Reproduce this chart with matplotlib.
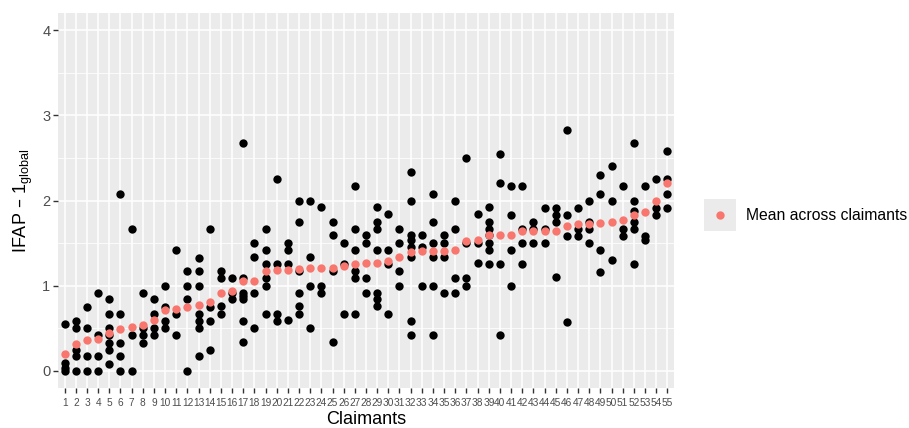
import matplotlib
matplotlib.use("Agg")
import matplotlib.pyplot as plt
import numpy as np

plt.rcParams["font.family"] = ["Liberation Sans", "DejaVu Sans"]

# IFAP - 1 values per claimant (claimants ordered by mean)
claimant_values = [
    [0.55, 0.09, 0.04, 0.0],
    [0.59, 0.5, 0.25, 0.17, 0.0],
    [0.75, 0.5, 0.17, 0.0],
    [0.92, 0.42, 0.17, 0.0],
    [0.84, 0.67, 0.5, 0.42, 0.33, 0.25, 0.08],
    [2.08, 0.67, 0.33, 0.17, 0.0],
    [1.67, 0.42, 0.0],
    [0.92, 0.5, 0.42, 0.33],
    [0.84, 0.67, 0.5, 0.42],
    [1.0, 0.75, 0.59, 0.5],
    [1.42, 0.67, 0.42],
    [1.17, 1.0, 0.84, 0.0],
    [1.33, 1.17, 1.0, 0.67, 0.59, 0.5, 0.17],
    [1.67, 0.75, 0.59, 0.25],
    [1.17, 1.09, 0.76, 0.67],
    [1.09, 0.92, 0.84],
    [2.67, 1.09, 0.92, 0.88, 0.84, 0.59, 0.34],
    [1.5, 1.34, 0.92, 0.5],
    [1.67, 1.42, 1.25, 1.09, 1.0, 0.67],
    [2.25, 1.25, 0.67, 0.59],
    [1.5, 1.42, 1.25, 0.6],
    [2.0, 1.75, 1.17, 0.92, 0.76, 0.67],
    [2.0, 1.34, 1.0, 0.5],
    [1.92, 1.0, 0.92],
    [1.75, 1.59, 1.17, 0.34],
    [1.5, 1.25, 0.67],
    [2.17, 1.67, 1.42, 1.17, 1.09, 0.67],
    [1.59, 1.5, 1.09, 0.92],
    [1.92, 1.75, 1.67, 1.42, 0.92, 0.84, 0.76],
    [1.84, 1.42, 1.25, 0.67],
    [1.67, 1.5, 1.17, 1.0],
    [2.34, 2.0, 1.59, 1.54, 1.46, 1.34, 0.59, 0.42],
    [1.59, 1.46, 1.0],
    [2.08, 1.75, 1.5, 1.34, 1.0, 0.42],
    [1.59, 1.5, 1.34, 0.92],
    [2.0, 1.67, 1.09, 0.92],
    [2.5, 1.5, 1.09, 1.0],
    [1.84, 1.5, 1.27],
    [1.92, 1.75, 1.67, 1.59, 1.5, 1.42, 1.25],
    [2.55, 2.2, 1.25, 0.42],
    [2.17, 1.83, 1.42, 1.0],
    [2.17, 1.67, 1.5, 1.25],
    [1.75, 1.67, 1.5],
    [1.91, 1.67, 1.5],
    [1.91, 1.83, 1.75, 1.1],
    [2.83, 1.83, 1.58, 0.58],
    [1.91, 1.67, 1.58],
    [2.0, 1.75, 1.67, 1.5],
    [2.3, 2.08, 1.42, 1.16],
    [2.41, 2.0, 1.3],
    [2.17, 1.67, 1.58],
    [2.67, 2.0, 1.88, 1.75, 1.67, 1.25],
    [2.17, 1.58, 1.54],
    [2.25, 1.91, 1.83],
    [2.58, 2.25, 2.08, 1.91],
]

mean_values = [
    0.2, 0.32, 0.36, 0.38, 0.45, 0.49, 0.52, 0.545, 0.6, 0.71,
    0.73, 0.75, 0.77, 0.81, 0.92, 0.94, 1.05, 1.06, 1.17, 1.19,
    1.19, 1.2, 1.21, 1.21, 1.21, 1.23, 1.25, 1.27, 1.27, 1.29,
    1.34, 1.4, 1.41, 1.41, 1.41, 1.42, 1.52, 1.54, 1.6, 1.6,
    1.6, 1.64, 1.64, 1.64, 1.64, 1.7, 1.72, 1.73, 1.74, 1.75,
    1.77, 1.83, 1.86, 2.0, 2.21,
]

claimant_labels = [str(i) for i in range(1, len(claimant_values) + 1)]

MEAN_COLOR = "#F8766D"
PANEL_BG = "#EBEBEB"

fig = plt.figure(figsize=(9.09, 4.28), dpi=100)
ax = fig.add_axes([58 / 909, 1 - 388 / 428, (674 - 58) / 909, (388 - 13) / 428])
ax.set_facecolor(PANEL_BG)

xs = np.arange(1, len(claimant_values) + 1)
px = np.concatenate([[x] * len(v) for x, v in zip(xs, claimant_values)])
py = np.concatenate(claimant_values)
ax.scatter(px, py, s=36, color="black", linewidths=0, zorder=3)
ax.scatter(xs, mean_values, s=36, color=MEAN_COLOR, linewidths=0, zorder=4)

ax.set_xlim(0.4, len(claimant_values) + 0.6)
ax.set_ylim(-0.2, 4.2)
ax.set_xticks(xs)
ax.set_xticklabels(claimant_labels, fontsize=7.3, color="#4D4D4D")
ax.set_yticks([0, 1, 2, 3, 4])
ax.set_yticks([0.5, 1.5, 2.5, 3.5], minor=True)
ax.tick_params(axis="y", labelsize=10.5, labelcolor="#4D4D4D", color="#333333",
               length=3.5, width=1, pad=2)
ax.tick_params(axis="y", which="minor", length=0)
ax.tick_params(axis="x", color="#333333", length=3.5, width=1, pad=3.5)

ax.grid(True, which="major", color="white", linewidth=1.1, zorder=0)
ax.grid(True, which="minor", axis="y", color="white", linewidth=0.55, zorder=0)
ax.set_axisbelow(True)
for s in ax.spines.values():
    s.set_visible(False)

ax.set_xlabel("Claimants", fontsize=13, labelpad=2.5)
ax.set_ylabel("IFAP – 1$_{\\mathregular{global}}$", fontsize=13, labelpad=5)

# legend key
key = fig.add_axes([704 / 909, 1 - 231 / 428, 32 / 909, 32 / 428])
key.set_facecolor(PANEL_BG)
key.scatter([0.5], [0.5], s=36, color=MEAN_COLOR, linewidths=0)
key.set_xlim(0, 1)
key.set_ylim(0, 1)
key.set_xticks([])
key.set_yticks([])
for s in key.spines.values():
    s.set_visible(False)
fig.text(746 / 909, 1 - 215 / 428, "Mean across claimants", fontsize=11.3,
         va="center", ha="left")

fig.savefig("out.png", dpi=100)
